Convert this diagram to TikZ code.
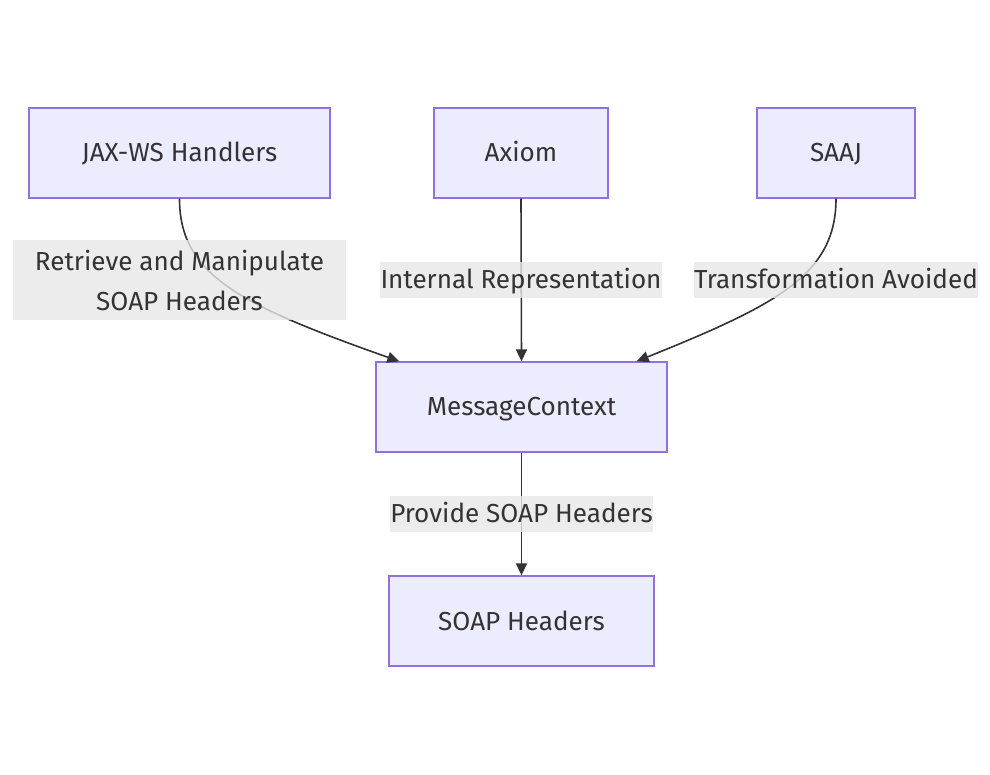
\documentclass[tikz,border=0pt]{standalone}
\usepackage{fontspec}
\setmainfont{Fira Sans}
\usetikzlibrary{arrows.meta}
\definecolor{nodefill}{HTML}{ECECFF}
\definecolor{nodeline}{HTML}{9370DB}
\definecolor{edgecol}{HTML}{333333}
\definecolor{lblfill}{HTML}{E8E8E8}
\definecolor{txtcol}{HTML}{333333}
\newlength\calw
\newsavebox\calbox
\AtBeginDocument{%
  \sbox\calbox{\fontsize{10pt}{12pt}\selectfont Internal Representation}%
  \global\calw=\wd\calbox
  \pgfmathsetmacro\fszloc{10*281/\calw}%
  \xdef\fsz{\fszloc}%
  \pgfmathsetmacro\caploc{0.69*\fszloc}%
  \xdef\capht{\caploc}%
}
\begin{document}
\begin{tikzpicture}[x=1pt,y=-1pt]
\tikzset{
  txt/.style={text=txtcol, font=\fontsize{\fsz}{40}\selectfont},
  oneline/.style={text height=\capht pt, text depth=0pt},
  box/.style={txt, oneline, draw=nodeline, fill=nodefill, line width=1.3pt, inner sep=0pt, minimum height=90pt},
  lbl/.style={txt, fill=lblfill, fill opacity=0.8, text opacity=1, inner sep=0pt, minimum height=36pt, align=center},
  edge/.style={draw=edgecol, line width=1.6pt, -{Triangle[length=12pt,width=11pt]}}
}
\useasboundingbox (0,0) rectangle (990,775);
\fill[white] (0,0) rectangle (990,775);
% nodes
\node[box, minimum width=301pt] (jax) at (179.5,153) {JAX-WS Handlers};
\node[box, minimum width=174pt] (axiom) at (521,153) {Axiom};
\node[box, minimum width=158pt] (saaj) at (836,153) {SAAJ};
\node[box, minimum width=291pt] (mc) at (521.5,407) {MessageContext};
\node[box, minimum width=265pt] (soap) at (521.5,621) {SOAP Headers};
% edges
\draw[edge] (jax.south) .. controls (179.5,275) and (240,305) .. ([xshift=24pt]mc.north west);
\draw[edge] (axiom.south) -- (mc.north);
\draw[edge] (saaj.south) .. controls (836,275) and (776,305) .. ([xshift=-31pt]mc.north east);
\draw[edge] (mc.south) -- (soap.north);
% labels
\node[lbl, minimum width=333pt, minimum height=80pt] (l1) at (179.5,280) {Retrieve and Manipulate\\SOAP Headers};
\node[lbl, oneline, minimum width=282pt] (l2) at (521,280) {Internal Representation};
\node[lbl, oneline, minimum width=278pt] (l3) at (836,280) {Transformation Avoided};
\node[lbl, oneline, minimum width=263pt] (l4) at (521.5,514) {Provide SOAP Headers};
\end{tikzpicture}
\end{document}
